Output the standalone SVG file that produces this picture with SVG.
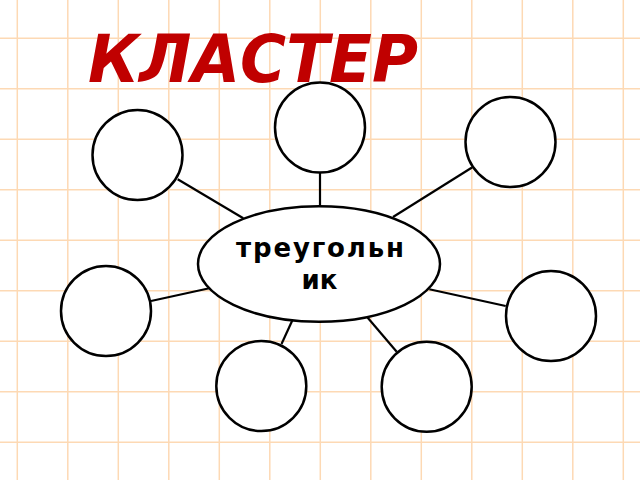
<svg xmlns="http://www.w3.org/2000/svg" width="640" height="480" viewBox="0 0 640 480">
  <style>
    .grid line { stroke: #fdd9b4; stroke-width: 1.5; }
    .node { fill: #ffffff; stroke: #000000; stroke-width: 2.5; }
    .conn line { stroke: #000000; stroke-width: 2.2; }
    .title { font-family: "DejaVu Sans", "Noto Sans", sans-serif; font-weight: bold; font-style: italic; font-size: 66px; fill: #c00000; }
    .label { font-family: "DejaVu Sans", "Noto Sans", sans-serif; font-weight: bold; font-size: 26px; fill: #000000; }
  </style>
  <rect width="640" height="480" fill="#ffffff"/>
  <g class="grid">
    <line x1="17.3" y1="0" x2="17.3" y2="480"/>
    <line x1="67.8" y1="0" x2="67.8" y2="480"/>
    <line x1="118.3" y1="0" x2="118.3" y2="480"/>
    <line x1="168.8" y1="0" x2="168.8" y2="480"/>
    <line x1="219.3" y1="0" x2="219.3" y2="480"/>
    <line x1="269.8" y1="0" x2="269.8" y2="480"/>
    <line x1="320.3" y1="0" x2="320.3" y2="480"/>
    <line x1="370.8" y1="0" x2="370.8" y2="480"/>
    <line x1="421.3" y1="0" x2="421.3" y2="480"/>
    <line x1="471.8" y1="0" x2="471.8" y2="480"/>
    <line x1="522.3" y1="0" x2="522.3" y2="480"/>
    <line x1="572.8" y1="0" x2="572.8" y2="480"/>
    <line x1="623.3" y1="0" x2="623.3" y2="480"/>
    <line x1="0" y1="38.3" x2="640" y2="38.3"/>
    <line x1="0" y1="88.8" x2="640" y2="88.8"/>
    <line x1="0" y1="139.3" x2="640" y2="139.3"/>
    <line x1="0" y1="189.8" x2="640" y2="189.8"/>
    <line x1="0" y1="240.3" x2="640" y2="240.3"/>
    <line x1="0" y1="290.8" x2="640" y2="290.8"/>
    <line x1="0" y1="341.3" x2="640" y2="341.3"/>
    <line x1="0" y1="391.8" x2="640" y2="391.8"/>
    <line x1="0" y1="442.3" x2="640" y2="442.3"/>
  </g>
  <text class="title" x="88" y="82" textLength="330" lengthAdjust="spacingAndGlyphs">КЛАСТЕР</text>
  <g id="connectors" class="conn">
    <line x1="320" y1="172.5" x2="320" y2="206.5"/>
    <line x1="177.7" y1="179.3" x2="243.3" y2="218.3"/>
    <line x1="472" y1="167.5" x2="393" y2="217"/>
    <line x1="151" y1="301" x2="209.3" y2="288.3"/>
    <line x1="429.3" y1="289.3" x2="505.7" y2="306"/>
    <line x1="292.5" y1="320" x2="281.5" y2="344"/>
    <line x1="367.3" y1="317.3" x2="396.7" y2="351.7"/>
  </g>
  <g id="center">
    <ellipse class="node" cx="319" cy="264" rx="121" ry="57.8"/>
    <text class="label" x="236" y="256.7" textLength="168" lengthAdjust="spacing">треугольн</text>
    <text class="label" x="319.5" y="288.5" text-anchor="middle">ик</text>
  </g>
  <g id="n-top"><circle class="node" cx="320" cy="127.5" r="45"/></g>
  <g id="n-topleft"><circle class="node" cx="137.5" cy="155" r="45"/></g>
  <g id="n-topright"><circle class="node" cx="510.5" cy="142" r="45"/></g>
  <g id="n-left"><circle class="node" cx="106" cy="311" r="45"/></g>
  <g id="n-right"><circle class="node" cx="551" cy="316" r="45"/></g>
  <g id="n-bottomleft"><circle class="node" cx="261.3" cy="386" r="45"/></g>
  <g id="n-bottomright"><circle class="node" cx="426.7" cy="386.7" r="45"/></g>
</svg>
